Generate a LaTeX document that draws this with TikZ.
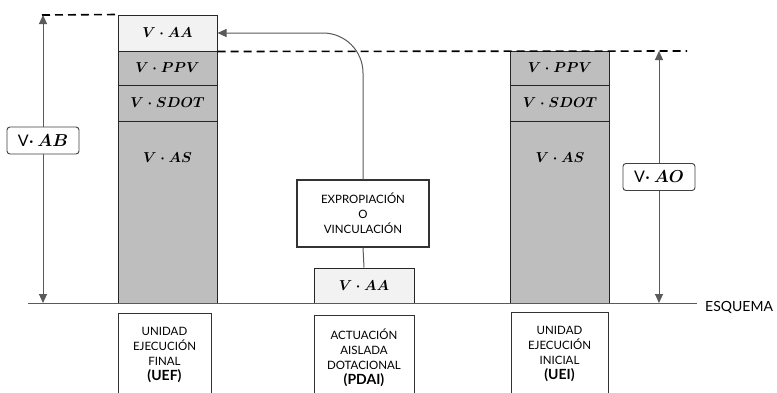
\documentclass[tikz,border=0pt]{standalone}
\usepackage{fontspec}
\setsansfont{Lato}
\usepackage{tikz}
\usepackage{xcolor}
\usepackage{amsmath}
\usetikzlibrary{arrows.meta, positioning}

\definecolor{colgray}{HTML}{BEBEBE}
\definecolor{aagray}{HTML}{F2F2F2}
\definecolor{dimgray}{HTML}{5A5A5A}

\begin{document}
\begin{tikzpicture}[
    x=1pt, y=-1pt,
    seg/.style={rectangle, draw=black!85, line width=1pt, fill=colgray, minimum width=99pt, inner sep=0pt, font=\boldmath\fontsize{14}{14}\selectfont},
    segtext/.style={inner sep=0pt, font=\boldmath\fontsize{14}{14}\selectfont},
    namebox/.style={rectangle, draw=black!80, line width=0.8pt, fill=white, align=center, inner sep=0pt, font=\sffamily\fontsize{11.5}{15}\selectfont},
    dimlabel/.style={rectangle, rounded corners=3pt, draw=black!75, line width=0.9pt, fill=white, minimum width=72pt, minimum height=27pt, inner sep=0pt, font=\boldmath\fontsize{16}{16}\selectfont},
    dim/.style={{Triangle[width=8pt,length=9pt]}-{Triangle[width=8pt,length=9pt]}, dimgray, line width=1pt},
    level/.style={dashed, dash pattern=on 8pt off 5pt, line width=1.6pt}
]
    \clip (0,0) rectangle (777,392);
    \fill[white] (0,0) rectangle (777,392);

    % Unidad de ejecucion final
    \node[seg, fill=aagray, minimum height=36pt] (uefAA) at (167.5,33) {$V\cdot AA$};
    \node[seg, minimum height=34pt] (uefPPV) at (167.5,68) {$V\cdot PPV$};
    \node[seg, minimum height=36pt] (uefSDOT) at (167.5,103) {$V\cdot SDOT$};
    \node[seg, minimum height=182pt] (uefAS) at (167.5,212) {};
    \node[segtext] (uefAStext) at (167.5,158) {$V\cdot AS$};

    % Unidad de ejecucion inicial
    \node[seg, minimum height=34pt] (ueiPPV) at (560,68) {$V\cdot PPV$};
    \node[seg, minimum height=36pt] (ueiSDOT) at (560,103) {$V\cdot SDOT$};
    \node[seg, minimum height=182pt] (ueiAS) at (560,212) {};
    \node[segtext] (ueiAStext) at (560,158) {$V\cdot AS$};

    % Actuacion aislada
    \node[seg, fill=aagray, minimum width=100pt, minimum height=35pt] (pdaiAA) at (364,285.5) {$V\cdot AA$};
    \node[namebox, line width=1.2pt, minimum width=132pt, minimum height=67pt] (expro) at (363,213.5) {EXPROPIACIÓN\\O\\VINCULACIÓN};

    % Levels
    \draw[level] (42,15) -- (uefAA.north west);
    \draw[level] (uefAA.south east) -- (687,51);

    % Ground line
    \coordinate (gleft) at (28,303);
    \coordinate (gright) at (697,303);
    \draw[dimgray, line width=1pt] (gleft) -- (gright);
    \node[anchor=west, inner sep=0pt, font=\sffamily\fontsize{14}{14}\selectfont] (esquema) at (705,307) {ESQUEMA};

    % Connectors of the isolated action
    \draw[dimgray, line width=1pt] (pdaiAA.north) -- (expro.south);
    \draw[-{Triangle[width=8pt,length=9pt]}, dimgray, line width=1pt, rounded corners=40pt] (expro.north) |- (uefAA.east);

    % Dimensions
    \coordinate (abtop) at (43,15);
    \coordinate (abbot) at (43,303);
    \draw[dim] (abtop) -- (abbot);
    \node[dimlabel] (vab) at (43,140.5) {{\sffamily V}$\cdot\,AB$};

    \coordinate (aotop) at (659,51);
    \coordinate (aobot) at (659,303);
    \draw[dim] (aotop) -- (aobot);
    \node[dimlabel] (vao) at (659,177) {{\sffamily V}$\cdot\,AO$};

    % Names
    \node[namebox, minimum width=93pt, minimum height=84pt, anchor=north] (uef) at (164.5,313) {UNIDAD\\EJECUCIÓN\\FINAL\\{\fontsize{14}{16}\selectfont\bfseries (UEF)}};
    \node[namebox, minimum width=100pt, minimum height=84pt, anchor=north] (pdai) at (364,315) {ACTUACIÓN\\AISLADA\\DOTACIONAL\\{\fontsize{14}{16}\selectfont\bfseries (PDAI)}};
    \node[namebox, minimum width=97pt, minimum height=84pt, anchor=north] (uei) at (559.5,312) {UNIDAD\\EJECUCIÓN\\INICIAL\\{\fontsize{14}{16}\selectfont\bfseries (UEI)}};
\end{tikzpicture}
\end{document}
